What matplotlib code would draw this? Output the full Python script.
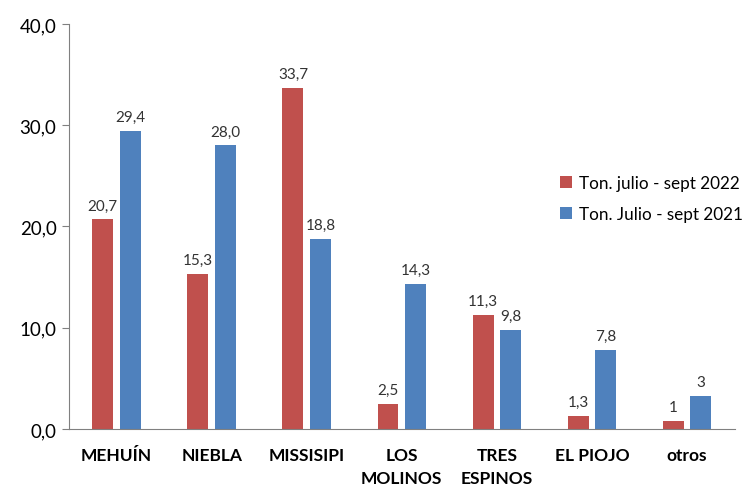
import numpy as np
import matplotlib.pyplot as plt

# data
categories = ['MEHUÍN', 'NIEBLA', 'MISSISIPI', 'LOS\nMOLINOS', 'TRES\nESPINOS', 'EL PIOJO', 'otros']
ton_2022 = [20.7, 15.3, 33.7, 2.5, 11.3, 1.3, 0.8]
ton_2021 = [29.4, 28.0, 18.8, 14.3, 9.8, 7.8, 3.3]
labels_2022 = ['20,7', '15,3', '33,7', '2,5', '11,3', '1,3', '1']
labels_2021 = ['29,4', '28,0', '18,8', '14,3', '9,8', '7,8', '3']
yticks = [0, 10, 20, 30, 40]

red = '#C0504D'
blue = '#4F81BD'

plt.rcParams['font.family'] = ['Lato', 'DejaVu Sans']

fig = plt.figure(figsize=(7.42, 4.89), dpi=100)
ax = fig.add_axes([0.093, 0.1207, 0.897, 0.8283])

x = np.arange(len(categories))
w = 0.22
off = 0.145
b1 = ax.bar(x - off, ton_2022, w, color=red, label='Ton. julio - sept 2022')
b2 = ax.bar(x + off, ton_2021, w, color=blue, label='Ton. Julio - sept 2021')

# value labels
for rect, lab in zip(b1, labels_2022):
    ax.annotate(lab, (rect.get_x() + rect.get_width() / 2, rect.get_height()),
                xytext=(0, 5), textcoords='offset points', ha='center', va='bottom',
                fontsize=11, color='#333333')
for rect, lab in zip(b2, labels_2021):
    ax.annotate(lab, (rect.get_x() + rect.get_width() / 2, rect.get_height()),
                xytext=(0, 5), textcoords='offset points', ha='center', va='bottom',
                fontsize=11, color='#333333')

ax.set_xlim(-0.5, len(categories) - 0.5)
ax.set_ylim(0, 40)
ax.set_yticks(yticks)
ax.set_yticklabels([f'{v:.1f}'.replace('.', ',') for v in yticks], fontsize=13.5)
ax.set_xticks(x)
ax.set_xticklabels(categories, fontsize=12.5, fontweight='bold', linespacing=1.55)
ax.tick_params(axis='x', length=0, pad=13)
ax.tick_params(axis='y', length=5, color='#808080', pad=4)

for s in ['top', 'right']:
    ax.spines[s].set_visible(False)
ax.spines['left'].set_color('#808080')
ax.spines['bottom'].set_color('#808080')

ax.legend(loc='upper left', bbox_to_anchor=(0.715, 0.665), frameon=False, fontsize=12.3,
          handlelength=0.7, handleheight=0.7, handletextpad=0.4, labelspacing=0.85)

fig.savefig('out.png', dpi=100)
